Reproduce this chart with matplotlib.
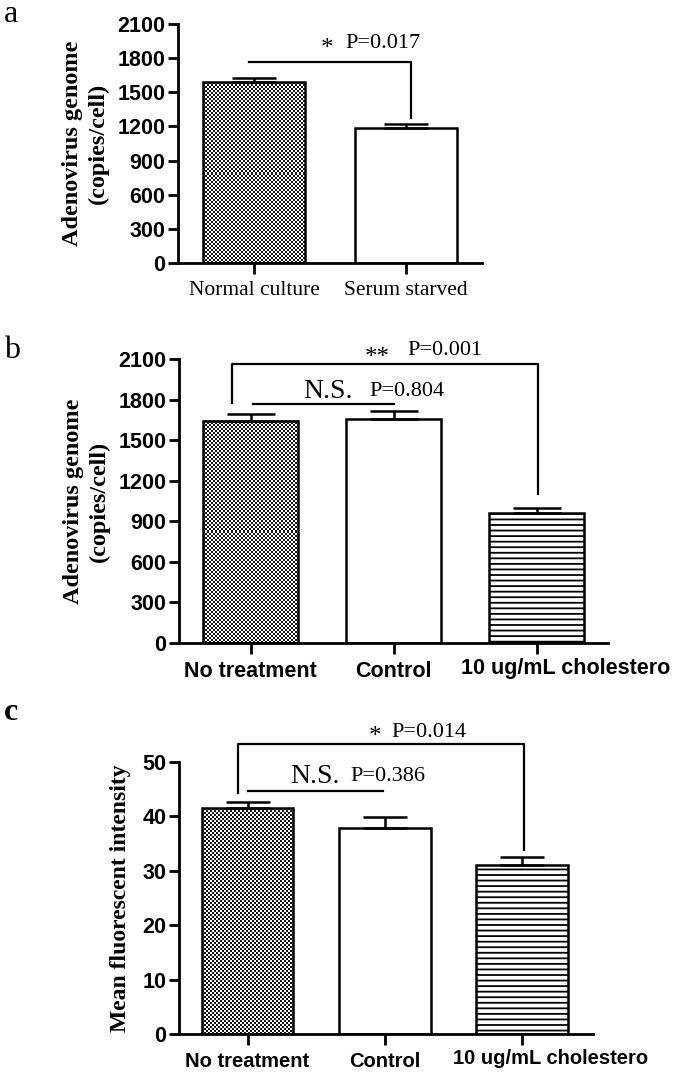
import numpy as np
import matplotlib
matplotlib.use("Agg")
import matplotlib.pyplot as plt
from matplotlib.colors import ListedColormap

# panel a
a_groups = ["Normal culture", "Serum starved"]
a_means = [1590, 1186]
a_sem = [35, 35]
# panel b
b_groups = ["No treatment", "Control", "10 ug/mL cholestero"]
b_means = [1642, 1656, 961]
b_sem = [51, 59, 37]
# panel c
c_groups = ["No treatment", "Control", "10 ug/mL cholestero"]
c_means = [41.5, 37.9, 31.0]
c_sem = [1.1, 2.0, 1.5]
genome_ticks = [0, 300, 600, 900, 1200, 1500, 1800, 2100]
mfi_ticks = [0, 10, 20, 30, 40, 50]

SERIF = "Liberation Serif"
SANS = "Liberation Sans"
W, H = 675, 1074
plt.rcParams["hatch.linewidth"] = 1.3

fig = plt.figure(figsize=(6.75, 10.74), dpi=100)


def axes_px(left, right, top, bottom):
    return fig.add_axes([left / W, 1 - bottom / H, (right - left) / W, (bottom - top) / H])


def checker(ax, bar):
    x0, y0 = bar.get_x(), bar.get_y()
    w, h = bar.get_width(), bar.get_height()
    p0 = ax.transData.transform((x0, y0))
    p1 = ax.transData.transform((x0 + w, y0 + h))
    nx = max(int(round((p1[0] - p0[0]) / 2)), 1)
    ny = max(int(round((p1[1] - p0[1]) / 2)), 1)
    grid = np.indices((ny, nx)).sum(axis=0) % 2
    ax.imshow(grid, cmap=ListedColormap(["white", "#151515"]), extent=(x0, x0 + w, y0, y0 + h),
              aspect="auto", interpolation="nearest", clip_path=bar, zorder=2)


def panel(ax, groups, means, sem, ticks, xlim, styles, label_font, cap, xsize=15.5):
    x = np.arange(len(groups))
    ax.set_xlim(*xlim)
    ax.set_ylim(ticks[0], ticks[-1])
    bars = ax.bar(x, means, width=0.67, facecolor="none", edgecolor="k", linewidth=1.8, zorder=3)
    for b, st in zip(bars, styles):
        if st == "checker":
            checker(ax, b)
        elif st == "lines":
            b.set_hatch("---")
    ax.errorbar(x, means, yerr=[np.zeros(len(sem)), sem], fmt="none", ecolor="k",
                elinewidth=1.8, capsize=cap, capthick=1.8, zorder=4)
    ax.set_xlim(*xlim)
    ax.set_ylim(ticks[0], ticks[-1])
    for s in ["top", "right"]:
        ax.spines[s].set_visible(False)
    for s in ["left", "bottom"]:
        ax.spines[s].set_linewidth(2)
    ax.set_yticks(ticks)
    ax.set_yticklabels([str(t) for t in ticks], fontfamily=SANS, fontweight="bold", fontsize=15.5)
    ax.set_xticks(x)
    if label_font == "serif":
        ax.set_xticklabels(groups, fontfamily=SERIF, fontsize=15.5)
    else:
        ax.set_xticklabels(list(groups[:-1]) + [""], fontfamily=SANS, fontweight="bold", fontsize=xsize)
        # the long label sits a little right of its tick in the original
        ax.annotate(groups[-1], xy=(x[-1], 0), xycoords=("data", "axes fraction"),
                    xytext=(21, -10.5), textcoords="offset points", ha="center", va="top",
                    fontfamily=SANS, fontweight="bold", fontsize=xsize, annotation_clip=False)
    ax.tick_params(axis="y", length=7, width=2, pad=2)
    ax.tick_params(axis="x", length=8, width=2, pad=5)


def bracket(ax, x0, x1, y, left_to=None, right_to=None):
    xs, ys = [x0, x1], [y, y]
    if left_to is not None:
        xs, ys = [x0] + xs, [left_to] + ys
    if right_to is not None:
        xs, ys = xs + [x1], ys + [right_to]
    ax.plot(xs, ys, color="k", lw=1.6, clip_on=False, zorder=5)


def note(ax, x, y, s, size=16):
    ax.text(x, y, s, fontfamily=SERIF, fontsize=size, ha="left", va="center", clip_on=False)


# ---- a ----
ax = axes_px(178, 482, 24, 263)
panel(ax, a_groups, a_means, a_sem, genome_ticks, (-0.5, 1.5), ["checker", "plain"], "serif", 16)
ax.set_ylabel("Adenovirus genome\n(copies/cell)", fontfamily=SERIF, fontweight="bold",
              fontsize=17.5, linespacing=1.3, labelpad=6)
bracket(ax, -0.03, 1.03, 1766, right_to=1274)
ax.text(0.48, 1880, "*", fontfamily=SERIF, fontsize=18, ha="center", va="center")
note(ax, 0.60, 1925, "P=0.017")

# ---- b ----
ax = axes_px(179, 608, 359, 643)
panel(ax, b_groups, b_means, b_sem, genome_ticks, (-0.5, 2.5), ["checker", "plain", "lines"], "sans", 17)
ax.set_ylabel("Adenovirus genome\n(copies/cell)", fontfamily=SERIF, fontweight="bold",
              fontsize=17.5, linespacing=1.3, labelpad=6)
bracket(ax, -0.126, 2.01, 2063, left_to=1775, right_to=1102)
bracket(ax, 0.02, 1.0, 1767)
ax.text(0.89, 2110, "**", fontfamily=SERIF, fontsize=18, ha="center", va="center")
note(ax, 1.10, 2160, "P=0.001")
note(ax, 0.37, 1860, "N.S.", size=20)
note(ax, 0.83, 1860, "P=0.804")

# ---- c ----
ax = axes_px(179, 593, 762, 1034)
panel(ax, c_groups, c_means, c_sem, mfi_ticks, (-0.5, 2.52), ["checker", "plain", "lines"], "sans", 16,
      xsize=14.5)
ax.set_ylabel("Mean fluorescent intensity", fontfamily=SERIF, fontweight="bold",
              fontsize=17, labelpad=8)
bracket(ax, -0.066, 2.02, 53.3, left_to=44.3, right_to=33.8)
bracket(ax, 0.0, 0.99, 44.7)
ax.text(0.93, 54.6, "*", fontfamily=SERIF, fontsize=18, ha="center", va="center")
note(ax, 1.05, 55.4, "P=0.014")
note(ax, 0.31, 47.3, "N.S.", size=20)
note(ax, 0.75, 47.3, "P=0.386")

# panel letters
fig.text(4 / W, 1 - 14 / H, "a", fontfamily=SERIF, fontsize=23, va="center", ha="left")
fig.text(4 / W, 1 - 351 / H, "b", fontfamily=SERIF, fontsize=23, va="center", ha="left")
fig.text(4 / W, 1 - 713 / H, "c", fontfamily=SERIF, fontsize=23, fontweight="bold", va="center", ha="left")

fig.savefig("out.png", dpi=100, facecolor="white")
